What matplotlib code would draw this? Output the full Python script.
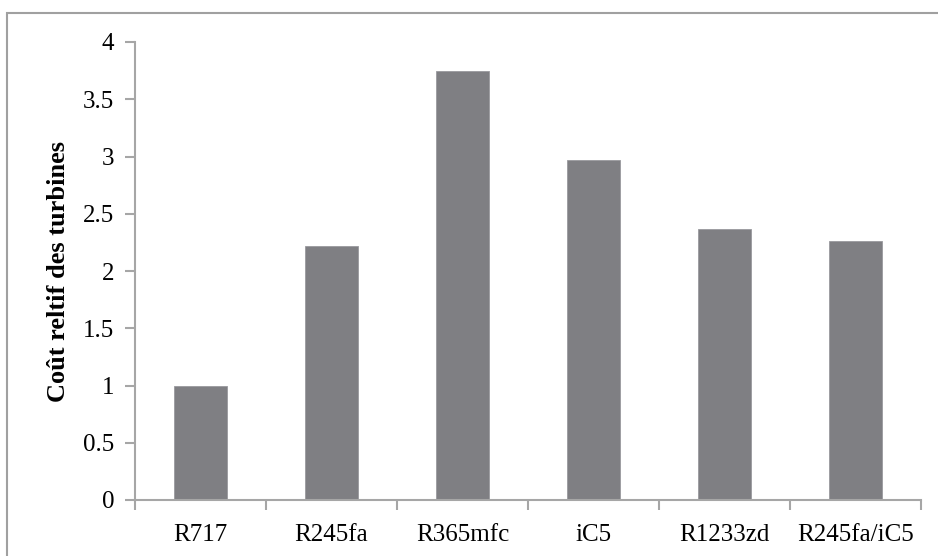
import matplotlib
matplotlib.use("Agg")
import matplotlib.pyplot as plt
from matplotlib.patches import Rectangle
import numpy as np

categories = ["R717", "R245fa", "R365mfc", "iC5", "R1233zd", "R245fa/iC5"]
values = [1.0, 2.22, 3.75, 2.97, 2.37, 2.26]
y_ticks = [0, 0.5, 1, 1.5, 2, 2.5, 3, 3.5, 4]
y_tick_labels = ["0", "0.5", "1", "1.5", "2", "2.5", "3", "3.5", "4"]
y_label = "Coût reltif des turbines"

plt.rcParams['font.family'] = ['Liberation Serif', 'DejaVu Serif']

W, H = 938, 556
fig = plt.figure(figsize=(W / 100, H / 100), dpi=100)

axis_color = "#a6a6a6"
bar_color = "#7f7f83"

# outer chart border (cropped at right/bottom)
fig.patches.append(Rectangle((7 / W, -0.05), 1.1, (H - 13) / H + 0.05,
                             transform=fig.transFigure, fill=False,
                             edgecolor="#a0a0a0", linewidth=1.5))

ax = fig.add_axes([135 / W, (H - 500) / H, 786 / W, 458 / H])
x = np.arange(len(categories))
ax.bar(x, values, width=0.4, color=bar_color, edgecolor="#9a9a9e", linewidth=0.6, zorder=2)

ax.set_xlim(-0.5, len(categories) - 0.5)
ax.set_ylim(0, 4)
ax.set_yticks(y_ticks)
ax.set_yticklabels(y_tick_labels, fontsize=18)
ax.set_xticks(x)
ax.set_xticklabels(categories, fontsize=18)
ax.set_xticks(np.arange(len(categories) + 1) - 0.5, minor=True)
ax.tick_params(axis='x', which='major', length=0, pad=17)
ax.tick_params(axis='x', which='minor', length=7, width=1.5, color=axis_color, direction='out')
ax.tick_params(axis='y', length=7, width=1.5, color=axis_color, direction='out', pad=8)

for s in ["top", "right"]:
    ax.spines[s].set_visible(False)
for s in ["left", "bottom"]:
    ax.spines[s].set_color(axis_color)
    ax.spines[s].set_linewidth(1.5)

ax.set_ylabel(y_label, fontsize=19, fontweight='bold', labelpad=9)

fig.savefig("out.png", dpi=100)
